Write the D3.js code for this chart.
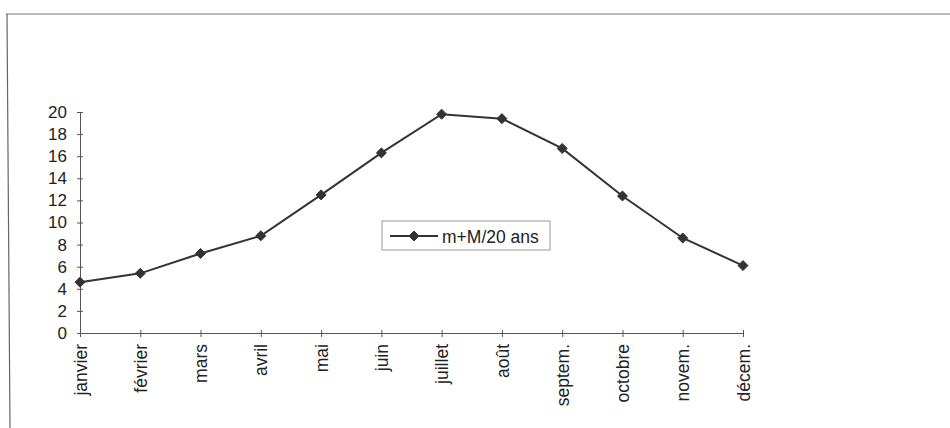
<!DOCTYPE html>
<html>
<head>
<meta charset="utf-8">
<script src="https://cdn.jsdelivr.net/npm/d3@7/dist/d3.min.js"></script>
<style>
  html, body { margin: 0; padding: 0; background: #fff; }
  svg { display: block; }
  text { font-family: "Liberation Sans", Arial, sans-serif; fill: #222; }
</style>
</head>
<body>
<svg id="chart" width="950" height="428"></svg>
<script>
// Monthly mean of min+max temperatures over 20 years
const months = ["janvier", "février", "mars", "avril", "mai", "juin",
                "juillet", "août", "septem.", "octobre", "novem.", "décem."];
const values = [4.6, 5.4, 7.2, 8.8, 12.5, 16.3, 19.8, 19.4, 16.7, 12.4, 8.6, 6.1];
const yTicks = [0, 2, 4, 6, 8, 10, 12, 14, 16, 18, 20];
const seriesName = "m+M/20 ans";

const svg = d3.select("#chart");
const ink = "#333";
const font = "'Liberation Sans', Arial, sans-serif";

// outer frame (top and left edges)
svg.append("line").attr("x1", 6).attr("y1", 14).attr("x2", 950).attr("y2", 14)
  .attr("stroke", "#777").attr("stroke-width", 1.2);
svg.append("line").attr("x1", 7).attr("y1", 14).attr("x2", 10).attr("y2", 428)
  .attr("stroke", "#666").attr("stroke-width", 1.2);

const x = d3.scalePoint().domain(months).range([80, 743]);
const y = d3.scaleLinear().domain([0, 20]).range([333, 112]);

// y axis
const yAxis = svg.append("g").attr("transform", "translate(80,0)")
  .call(d3.axisLeft(y).tickValues(yTicks).tickSize(3).tickPadding(10));
yAxis.select(".domain").attr("stroke", "#555");
yAxis.selectAll(".tick line").attr("stroke", "#555").attr("x2", 3).attr("x1", -3);
yAxis.selectAll(".tick text").attr("font-size", 17).attr("fill", "#222")
  .attr("font-family", font);

// x axis
const xAxis = svg.append("g").attr("transform", "translate(0,333)")
  .call(d3.axisBottom(x).tickSize(4).tickSizeOuter(0));
xAxis.select(".domain").attr("stroke", "#555");
xAxis.selectAll(".tick line").attr("stroke", "#555").attr("y1", -3).attr("y2", 4);
xAxis.selectAll(".tick text")
  .attr("font-size", 17.5).attr("fill", "#222")
  .attr("font-family", font)
  .attr("text-anchor", "end")
  .attr("transform", "rotate(-90)")
  .attr("x", -11).attr("y", 0).attr("dy", "0.35em");

// series line
const line = d3.line().x((d, i) => x(months[i])).y(d => y(d));
svg.append("path").datum(values)
  .attr("d", line).attr("fill", "none")
  .attr("stroke", ink).attr("stroke-width", 2);

const diamond = d3.symbol().type(d3.symbolDiamond2).size(64);
svg.append("g").selectAll("path").data(values).join("path")
  .attr("d", diamond)
  .attr("transform", (d, i) => `translate(${x(months[i])},${y(d)})`)
  .attr("fill", ink).attr("stroke", ink).attr("stroke-width", 1);

// legend
const lg = svg.append("g").attr("transform", "translate(382,221)");
lg.append("rect").attr("width", 168).attr("height", 29)
  .attr("fill", "#fff").attr("stroke", "#999").attr("stroke-width", 1);
lg.append("line").attr("x1", 8).attr("x2", 56).attr("y1", 15).attr("y2", 15)
  .attr("stroke", ink).attr("stroke-width", 2);
lg.append("path").attr("d", diamond).attr("transform", "translate(32,15)")
  .attr("fill", ink).attr("stroke", ink);
lg.append("text").attr("x", 60).attr("y", 22).attr("font-size", 17.5).text(seriesName);
</script>
</body>
</html>
